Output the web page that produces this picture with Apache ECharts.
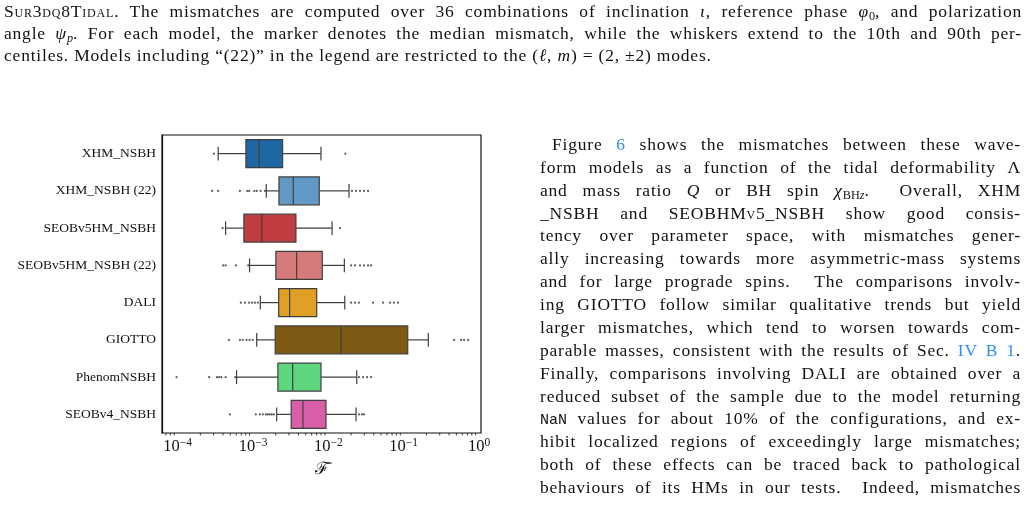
<!DOCTYPE html>
<html lang="en">
<head>
    <meta charset="UTF-8">
    <title>Mismatch box plot</title>
    <style>
        * { margin: 0; padding: 0; }
        body { width: 1028px; height: 506px; background: #fff; overflow: hidden; position: relative; }
        #chart-container { position: absolute; left: 0; top: 0; width: 1028px; height: 506px; }
        .ln {
            position: absolute;
            font-family: 'Liberation Serif', 'DejaVu Serif', serif;
            font-size: 17.5px;
            line-height: 17px;
            letter-spacing: 0.8px;
            color: #111;
            text-align: justify;
            text-align-last: justify;
        }
        .ln.last { text-align-last: left; }
        .sc { font-variant: small-caps; }
        .ref { color: #2f8ff0; }
        .tt { font-family: 'Liberation Mono', 'DejaVu Sans Mono', monospace; font-size: 15px; letter-spacing: 0; }
        sub { font-size: 0.7em; vertical-align: -0.25em; line-height: 0; letter-spacing: 0; }
    </style>
</head>
<body>
    <div id="chart-container"></div>

    <div class="ln" style="left:4px;width:1018px;top:3px;"><span class="sc">Sur3dq8Tidal</span>. The mismatches are computed over 36 combinations of inclination <i>ι</i>, reference phase <i>φ</i><sub>0</sub>, and polarization</div>
    <div class="ln" style="left:4px;width:1018px;top:25px;">angle <i>ψ</i><sub><i>p</i></sub>. For each model, the marker denotes the median mismatch, while the whiskers extend to the 10th and 90th per-</div>
    <div class="ln last" style="left:4px;width:1018px;top:47px;">centiles. Models including “(22)” in the legend are restricted to the (<i>ℓ</i>, <i>m</i>) = (2, ±2) modes.</div>

    <div class="ln" style="left:552px;width:469px;top:136px;">Figure <span class="ref">6</span> shows the mismatches between these wave-</div>
    <div class="ln" style="left:540px;width:481px;top:159px;">form models as a function of the tidal deformability Λ</div>
    <div class="ln" style="left:540px;width:481px;top:182px;">and mass ratio <i>Q</i> or BH spin <i>χ</i><sub>BH<i>z</i></sub>. &nbsp;Overall, XHM</div>
    <div class="ln" style="left:540px;width:481px;top:205px;">_NSBH and SEOBHM<span class="sc">v</span>5_NSBH show good consis-</div>
    <div class="ln" style="left:540px;width:481px;top:227px;">tency over parameter space, with mismatches gener-</div>
    <div class="ln" style="left:540px;width:481px;top:250px;">ally increasing towards more asymmetric-mass systems</div>
    <div class="ln" style="left:540px;width:481px;top:273px;">and for large prograde spins. &nbsp;The comparisons involv-</div>
    <div class="ln" style="left:540px;width:481px;top:296px;">ing GIOTTO follow similar qualitative trends but yield</div>
    <div class="ln" style="left:540px;width:481px;top:319px;">larger mismatches, which tend to worsen towards com-</div>
    <div class="ln" style="left:540px;width:481px;top:342px;">parable masses, consistent with the results of Sec. <span class="ref">IV B 1</span>.</div>
    <div class="ln" style="left:540px;width:481px;top:365px;">Finally, comparisons involving DALI are obtained over a</div>
    <div class="ln" style="left:540px;width:481px;top:388px;">reduced subset of the sample due to the model returning</div>
    <div class="ln" style="left:540px;width:481px;top:410px;"><span class="tt">NaN</span> values for about 10% of the configurations, and ex-</div>
    <div class="ln" style="left:540px;width:481px;top:433px;">hibit localized regions of exceedingly large mismatches;</div>
    <div class="ln" style="left:540px;width:481px;top:456px;">both of these effects can be traced back to pathological</div>
    <div class="ln" style="left:540px;width:481px;top:479px;">behaviours of its HMs in our tests. &nbsp;Indeed, mismatches</div>

    <script src="https://cdn.jsdelivr.net/npm/echarts@6.0.0/dist/echarts.min.js"></script>
    <script>
        // models, top to bottom
        var models = ['XHM_NSBH', 'XHM_NSBH (22)', 'SEOBv5HM_NSBH', 'SEOBv5HM_NSBH (22)',
                      'DALI', 'GIOTTO', 'PhenomNSBH', 'SEOBv4_NSBH'];

        // box statistics (whiskers = 10th / 90th percentiles)
        var whiskerLow  = [3.45e-4, 1.50e-3, 4.33e-4, 9.0e-4, 1.25e-3, 1.12e-3, 6.05e-4, 2.06e-3];
        var q1          = [8.05e-4, 2.21e-3, 7.57e-4, 2.01e-3, 2.19e-3, 1.97e-3, 2.14e-3, 3.21e-3];
        var median      = [1.21e-3, 3.42e-3, 1.31e-3, 3.79e-3, 3.06e-3, 1.47e-2, 3.36e-3, 4.60e-3];
        var q3          = [2.47e-3, 7.57e-3, 3.71e-3, 8.3e-3, 7.0e-3, 1.13e-1, 7.98e-3, 9.29e-3];
        var whiskerHigh = [7.98e-3, 1.88e-2, 1.12e-2, 1.63e-2, 1.65e-2, 2.12e-1, 2.38e-2, 2.33e-2];

        // points outside the whiskers, one list per model
        var outliers = [
            [3.03e-4, 1.68e-2],
            [2.87e-4, 3.45e-4, 6.7e-4, 8.4e-4, 8.9e-4, 1.04e-3, 1.12e-3, 1.26e-3, 1.44e-3,
             2.06e-2, 2.33e-2, 2.63e-2, 2.97e-2, 3.36e-2],
            [3.95e-4, 1.43e-2],
            [4.02e-4, 4.33e-4, 5.93e-4, 8.63e-4,
             2.0e-2, 2.26e-2, 2.63e-2, 2.97e-2, 3.36e-2, 3.68e-2],
            [6.9e-4, 7.8e-4, 8.8e-4, 9.7e-4, 1.06e-3, 1.16e-3,
             2.0e-2, 2.26e-2, 2.54e-2, 3.91e-2, 5.31e-2, 6.58e-2, 7.4e-2, 8.4e-2],
            [4.79e-4, 6.7e-4, 7.3e-4, 8.2e-4, 9.0e-4, 9.9e-4,
             4.66e-1, 5.77e-1, 6.32e-1, 7.14e-1],
            [9.67e-5, 2.62e-4, 3.32e-4, 3.55e-4, 3.8e-4, 4.33e-4, 5.8e-4,
             2.55e-2, 2.89e-2, 3.26e-2, 3.69e-2],
            [4.93e-4, 1.09e-3, 1.23e-3, 1.35e-3, 1.48e-3, 1.57e-3, 1.67e-3, 1.77e-3, 1.89e-3,
             2.55e-2, 2.79e-2, 2.97e-2]
        ];

        var xMin = 6.2e-5, xMax = 1.06;
        var minorMult = [2, 3, 4, 5, 6, 7, 8, 9];
        var minorDecades = [1e-5, 1e-4, 1e-3, 1e-2, 1e-1];

        var boxColors = ['#1f67a3', '#6199c6', '#c13c3f', '#d67b7b', '#e09f25', '#7e5914', '#5ed67e', '#da5da8'];
        var edge = '#3f3f3f';
        var serif = "'Liberation Serif', 'DejaVu Serif', serif";

        var boxData = models.map(function (m, i) {
            return [i, whiskerLow[i], q1[i], median[i], q3[i], whiskerHigh[i]];
        });
        var flierData = [];
        outliers.forEach(function (list, i) {
            list.forEach(function (v) { flierData.push([v, i]); });
        });
        var minorData = [];
        minorDecades.forEach(function (d) {
            minorMult.forEach(function (k) {
                var v = d * k;
                if (v > xMin && v < xMax) minorData.push([v, 0]);
            });
        });

        var dom = document.getElementById('chart-container');
        var myChart = echarts.init(dom, null, { renderer: 'canvas' });

        var option = {
            animation: false,
            grid: {
                left: 162, right: 547, top: 135, bottom: 73,
                show: true, borderColor: '#111', borderWidth: 1.2,
                outerBoundsMode: 'none'
            },
            xAxis: {
                type: 'log',
                logBase: 10,
                min: xMin,
                max: xMax,
                splitLine: { show: false },
                axisLine: { lineStyle: { color: '#111', width: 1.2 } },
                axisTick: { length: 4, lineStyle: { color: '#111' } },
                axisLabel: {
                    margin: 4,
                    fontFamily: serif,
                    color: '#111',
                    formatter: function (v) {
                        var l = Math.log10(v);
                        var e = Math.round(l);
                        if (Math.abs(l - e) > 1e-6) return '';
                        return '{b|10}{s|' + (e < 0 ? '\u2212' + (-e) : e) + '}';
                    },
                    rich: {
                        b: { fontFamily: serif, fontSize: 16.5, lineHeight: 20, color: '#111' },
                        s: { fontFamily: serif, fontSize: 11.5, lineHeight: 11, verticalAlign: 'top', color: '#111' }
                    }
                },
                name: 'ℱ̄',
                nameLocation: 'middle',
                nameGap: 28,
                nameTextStyle: { fontFamily: serif, fontSize: 17, color: '#111' }
            },
            yAxis: {
                type: 'category',
                data: models,
                inverse: true,
                axisLine: { lineStyle: { color: '#111', width: 1.2 } },
                axisTick: { alignWithLabel: true, length: 4, lineStyle: { color: '#111' } },
                axisLabel: { fontFamily: serif, fontSize: 13.5, color: '#111', margin: 6 },
                splitLine: { show: false }
            },
            series: [
                {
                    type: 'custom',
                    data: boxData,
                    encode: { x: [1, 2, 3, 4, 5], y: 0 },
                    z: 2,
                    renderItem: function (params, api) {
                        var cat = api.value(0);
                        var band = params.coordSys.height / models.length;
                        var h = band * 0.75;
                        var pLo = api.coord([api.value(1), cat]);
                        var pQ1 = api.coord([api.value(2), cat]);
                        var pMed = api.coord([api.value(3), cat]);
                        var pQ3 = api.coord([api.value(4), cat]);
                        var pHi = api.coord([api.value(5), cat]);
                        var y = pQ1[1];
                        var line = { stroke: edge, lineWidth: 1.2 };
                        return {
                            type: 'group',
                            children: [
                                { type: 'line', shape: { x1: pLo[0], y1: y, x2: pQ1[0], y2: y }, style: line },
                                { type: 'line', shape: { x1: pQ3[0], y1: y, x2: pHi[0], y2: y }, style: line },
                                { type: 'line', shape: { x1: pLo[0], y1: y - h / 4, x2: pLo[0], y2: y + h / 4 }, style: line },
                                { type: 'line', shape: { x1: pHi[0], y1: y - h / 4, x2: pHi[0], y2: y + h / 4 }, style: line },
                                {
                                    type: 'rect',
                                    shape: { x: pQ1[0], y: y - h / 2, width: pQ3[0] - pQ1[0], height: h },
                                    style: { fill: boxColors[cat], stroke: edge, lineWidth: 1.2 }
                                },
                                { type: 'line', shape: { x1: pMed[0], y1: y - h / 2, x2: pMed[0], y2: y + h / 2 }, style: line }
                            ]
                        };
                    }
                },
                {
                    type: 'scatter',
                    data: flierData,
                    symbol: 'circle',
                    symbolSize: 2.2,
                    itemStyle: { color: '#333' },
                    z: 3
                },
                {
                    // minor log ticks under the x axis
                    type: 'custom',
                    data: minorData,
                    clip: false,
                    silent: true,
                    renderItem: function (params, api) {
                        var p = api.coord([api.value(0), 0]);
                        var yb = params.coordSys.y + params.coordSys.height;
                        return {
                            type: 'line',
                            shape: { x1: p[0], y1: yb, x2: p[0], y2: yb + 2.5 },
                            style: { stroke: '#111', lineWidth: 0.8 }
                        };
                    }
                }
            ]
        };

        myChart.setOption(option);
        window.addEventListener('resize', myChart.resize);
    </script>
</body>
</html>
